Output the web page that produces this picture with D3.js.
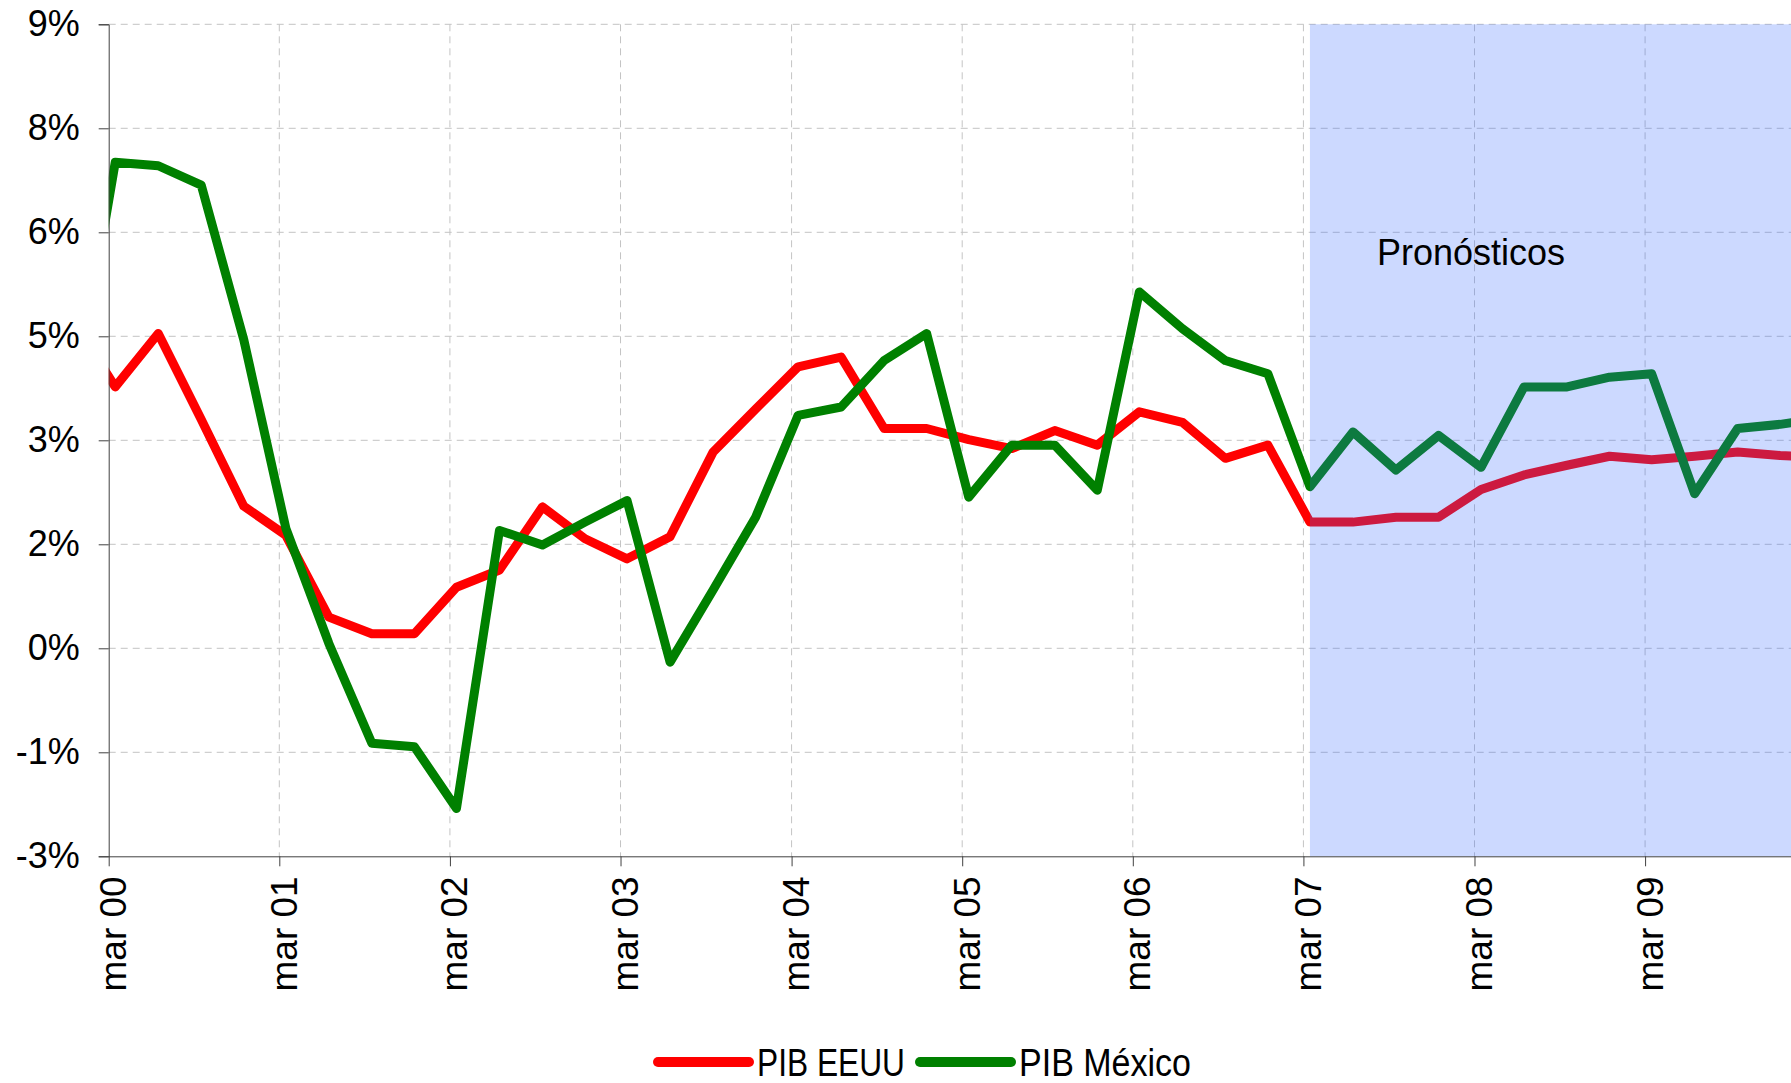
<!DOCTYPE html>
<html>
<head>
<meta charset="utf-8">
<script src="https://cdn.jsdelivr.net/npm/d3@7"></script>
<style>
	body { margin: 0; background: #fff; overflow: hidden; }
	text { font-family: "Liberation Sans", Arial, sans-serif; fill: #000; }
</style>
</head>
<body>
<svg id="chart"></svg>
<script>

// quarterly periods (mid-month), first and last one fall outside the plot and get clipped
let periods = [
	'1999-12-15',
	'2000-03-15', '2000-06-15', '2000-09-15', '2000-12-15',
	'2001-03-15', '2001-06-15', '2001-09-15', '2001-12-15',
	'2002-03-15', '2002-06-15', '2002-09-15', '2002-12-15',
	'2003-03-15', '2003-06-15', '2003-09-15', '2003-12-15',
	'2004-03-15', '2004-06-15', '2004-09-15', '2004-12-15',
	'2005-03-15', '2005-06-15', '2005-09-15', '2005-12-15',
	'2006-03-15', '2006-06-15', '2006-09-15', '2006-12-15',
	'2007-03-15', '2007-06-15', '2007-09-15', '2007-12-15',
	'2008-03-15', '2008-06-15', '2008-09-15', '2008-12-15',
	'2009-03-15', '2009-06-15', '2009-09-15', '2009-12-15',
	'2010-03-15'
];

let pibEEUU = [
	4.74,
	3.77, 4.54, 3.30, 2.05,
	1.63, 0.45, 0.21, 0.21,
	0.88, 1.13, 2.04, 1.58,
	1.29, 1.61, 2.83, 3.45,
	4.06, 4.20, 3.17, 3.17,
	3.01, 2.88, 3.14, 2.93,
	3.41, 3.26, 2.74, 2.93,
	1.82, 1.82, 1.89, 1.89,
	2.29, 2.50, 2.64, 2.77,
	2.72, 2.77, 2.83, 2.78,
	2.75
];

let pibMexico = [
	3.42,
	7.01, 6.96, 6.68, 4.45,
	1.73, 0.07, -1.37, -1.42,
	-2.31, 1.70, 1.49, 1.82,
	2.13, -0.20, 0.84, 1.89,
	3.36, 3.48, 4.15, 4.54,
	2.18, 2.93, 2.93, 2.28,
	5.14, 4.61, 4.15, 3.96,
	2.33, 3.12, 2.57, 3.07,
	2.61, 3.77, 3.77, 3.91,
	3.96, 2.23, 3.17, 3.23,
	3.32
];

let seriesNames = ['PIB EEUU', 'PIB México'];
let forecastStart = '2007-03-15';
let forecastLabel = 'Pronósticos';

let yTicks = [-3, -1.5, 0, 1.5, 3, 4.5, 6, 7.5, 9];
let yTickLabels = ['-3%', '-1%', '0%', '2%', '3%', '5%', '6%', '8%', '9%'];

let xTicks = ['2000-03-01', '2001-03-01', '2002-03-01', '2003-03-01', '2004-03-01',
	'2005-03-01', '2006-03-01', '2007-03-01', '2008-03-01', '2009-03-01'];
let xTickLabels = ['mar 00', 'mar 01', 'mar 02', 'mar 03', 'mar 04',
	'mar 05', 'mar 06', 'mar 07', 'mar 08', 'mar 09'];

let width = 1791,
		height = 1083,
		plot = {left: 108.7, top: 24.3, bottom: 856.3},
		red = '#ff0000',
		green = '#008000',
		gridColor = '#c4c4c4',
		axisColor = '#404040';

let parse = d3.timeParse('%Y-%m-%d');

let x = d3.scaleTime()
		.domain([parse('2000-03-01'), parse('2010-03-01')])
		.range([plot.left, plot.left + 10 * 170.7]);

let y = d3.scaleLinear()
		.domain([-3, 9])
		.range([plot.bottom, plot.top]);

let plotRight = x.range()[1];

let svg = d3.select('#chart')
		.attr('width', width)
		.attr('height', height);

svg.append('defs').append('clipPath')
		.attr('id', 'plot-clip')
		.append('rect')
		.attr('x', plot.left)
		.attr('y', plot.top - 10)
		.attr('width', plotRight - plot.left)
		.attr('height', plot.bottom - plot.top + 20);

// build grid
let grid = svg.append('g');

grid.selectAll('line.h')
		.data(yTicks.slice(1))
		.enter()
		.append('line')
		.attr('class', 'h')
		.attr('x1', plot.left)
		.attr('x2', plotRight)
		.attr('y1', d => y(d))
		.attr('y2', d => y(d))
		.attr('stroke', gridColor)
		.attr('stroke-dasharray', '7,5');

grid.selectAll('line.v')
		.data(xTicks.slice(1))
		.enter()
		.append('line')
		.attr('class', 'v')
		.attr('x1', d => x(parse(d)))
		.attr('x2', d => x(parse(d)))
		.attr('y1', plot.top)
		.attr('y2', plot.bottom)
		.attr('stroke', gridColor)
		.attr('stroke-dasharray', '7,5');

// build lines
let line = d3.line()
		.x(d => x(d.date))
		.y(d => y(d.value));

let series = [
	{name: seriesNames[0], color: red, values: pibEEUU},
	{name: seriesNames[1], color: green, values: pibMexico}
];

svg.append('g')
		.attr('clip-path', 'url(#plot-clip)')
		.selectAll('path')
		.data(series)
		.enter()
		.append('path')
		.attr('d', s => line(s.values.map((v, i) => ({date: parse(periods[i]), value: v}))))
		.attr('fill', 'none')
		.attr('stroke', s => s.color)
		.attr('stroke-width', 9)
		.attr('stroke-linejoin', 'round');

// forecast shading, drawn over the lines
svg.append('rect')
		.attr('x', x(parse(forecastStart)))
		.attr('y', plot.top)
		.attr('width', plotRight - x(parse(forecastStart)))
		.attr('height', plot.bottom - plot.top)
		.attr('fill', '#3366ff')
		.attr('fill-opacity', 0.25);

svg.append('text')
		.text(forecastLabel)
		.attr('x', 1377)
		.attr('y', 265)
		.style('font-size', '36px');

// build axes
let yAxis = svg.append('g')
		.attr('transform', `translate(${plot.left},0)`)
		.call(d3.axisLeft(y)
				.tickValues(yTicks)
				.tickFormat((d, i) => yTickLabels[i])
				.tickSize(10)
				.tickPadding(19));

let xAxis = svg.append('g')
		.attr('transform', `translate(0,${plot.bottom})`)
		.call(d3.axisBottom(x)
				.tickValues(xTicks.map(parse))
				.tickFormat((d, i) => xTickLabels[i])
				.tickSize(10)
				.tickSizeOuter(0));

[yAxis, xAxis].forEach(a => {
	a.select('.domain').attr('stroke', axisColor);
	a.selectAll('.tick line').attr('stroke', axisColor);
	a.selectAll('text')
			.attr('fill', '#000')
			.style('font-size', '36px')
			.style('font-family', '"Liberation Sans", Arial, sans-serif');
});

xAxis.selectAll('.tick text')
		.attr('transform', 'rotate(-90)')
		.attr('text-anchor', 'end')
		.attr('x', -20)
		.attr('y', 0)
		.attr('dy', '17px')
		.style('font-size', '37px');

// build legend
let legend = svg.append('g')
		.selectAll('g')
		.data(series)
		.enter()
		.append('g')
		.attr('transform', (d, i) => `translate(${[658, 920][i]},1062)`);

legend.append('line')
		.attr('x1', 0)
		.attr('x2', 91)
		.attr('stroke', d => d.color)
		.attr('stroke-width', 10)
		.attr('stroke-linecap', 'round');

legend.append('text')
		.text(d => d.name)
		.attr('x', 99)
		.attr('y', 14)
		.attr('textLength', (d, i) => [148, 172][i])
		.attr('lengthAdjust', 'spacingAndGlyphs')
		.style('font-size', '39px');

</script>
</body>
</html>
